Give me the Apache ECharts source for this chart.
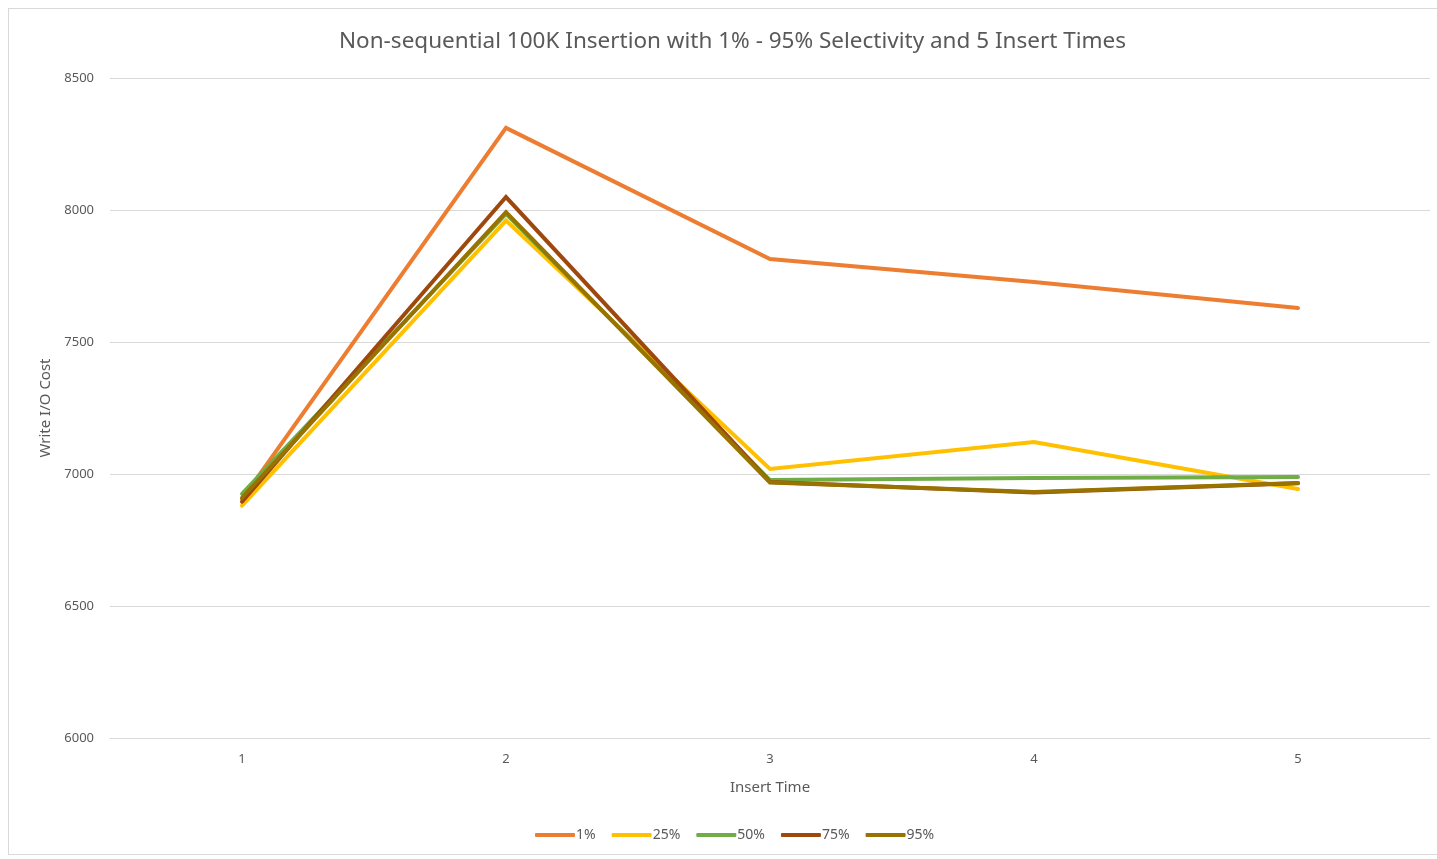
<!DOCTYPE html>
<html>
<head>
<meta charset="utf-8">
<script src="https://cdn.jsdelivr.net/npm/echarts@6/dist/echarts.min.js"></script>
<style>
  html, body { margin: 0; padding: 0; background: #fff; }
  #frame { position: absolute; left: 8px; top: 8px; width: 1440px; height: 847px; border: 1px solid #d9d9d9; box-sizing: border-box; }
  #chart { position: absolute; left: 0; top: 0; width: 1437px; height: 859px; }
</style>
</head>
<body>
<div id="frame"></div>
<div id="chart"></div>
<script>
// Insert rounds on the x axis
const insertTimes = ['1', '2', '3', '4', '5'];

// Write I/O cost per selectivity level
const sel1 = [6905, 8311, 7814, 7727, 7629];
const sel25 = [6880, 7960, 7019, 7121, 6943];
const sel50 = [6925, 7985, 6977, 6985, 6989];
const sel75 = [6895, 8049, 6970, 6930, 6965];
const sel95 = [6910, 7992, 6968, 6932, 6966];

const seriesNames = ['1%', '25%', '50%', '75%', '95%'];
const seriesColors = ['#ED7D31', '#FFC000', '#70AD47', '#9E480E', '#997300'];
const seriesData = [sel1, sel25, sel50, sel75, sel95];

const textColor = '#595959';
const font = 'Noto Sans';

const chart = echarts.init(document.getElementById('chart'), null, { renderer: 'canvas' });
chart.setOption({
  animation: false,
  title: {
    text: 'Non-sequential 100K Insertion with 1% - 95% Selectivity and 5 Insert Times',
    left: 334,
    top: 25,
    textStyle: { color: textColor, fontFamily: font, fontSize: 22.5, fontWeight: 'normal' }
  },
  legend: {
    bottom: 12,
    left: 530,
    itemWidth: 40,
    itemHeight: 4,
    itemGap: 16,
    icon: 'roundRect',
    textStyle: { color: textColor, fontFamily: font, fontSize: 14, padding: [0, 0, 0, -4] },
    data: seriesNames
  },
  grid: { left: 110, right: 7, top: 78, bottom: 121 },
  xAxis: {
    type: 'category',
    data: insertTimes,
    boundaryGap: true,
    name: 'Insert Time',
    nameLocation: 'middle',
    nameGap: 42,
    nameTextStyle: { color: textColor, fontFamily: font, fontSize: 15 },
    axisLine: { show: true, lineStyle: { color: '#d9d9d9' } },
    axisTick: { show: false },
    axisLabel: { color: textColor, fontFamily: font, fontSize: 13, margin: 15 }
  },
  yAxis: {
    type: 'value',
    min: 6000,
    max: 8500,
    interval: 500,
    name: 'Write I/O Cost',
    nameLocation: 'middle',
    nameGap: 56,
    nameTextStyle: { color: textColor, fontFamily: font, fontSize: 15 },
    axisLine: { show: false },
    axisTick: { show: false },
    splitLine: { lineStyle: { color: '#d9d9d9' } },
    axisLabel: { color: textColor, fontFamily: font, fontSize: 13, margin: 16, formatter: v => String(v) }
  },
  series: seriesData.map((d, i) => ({
    name: seriesNames[i],
    type: 'line',
    data: d,
    symbol: 'none',
    color: seriesColors[i],
    lineStyle: { width: 4, color: seriesColors[i], cap: 'round', join: 'miter' }
  }))
});
</script>
</body>
</html>
